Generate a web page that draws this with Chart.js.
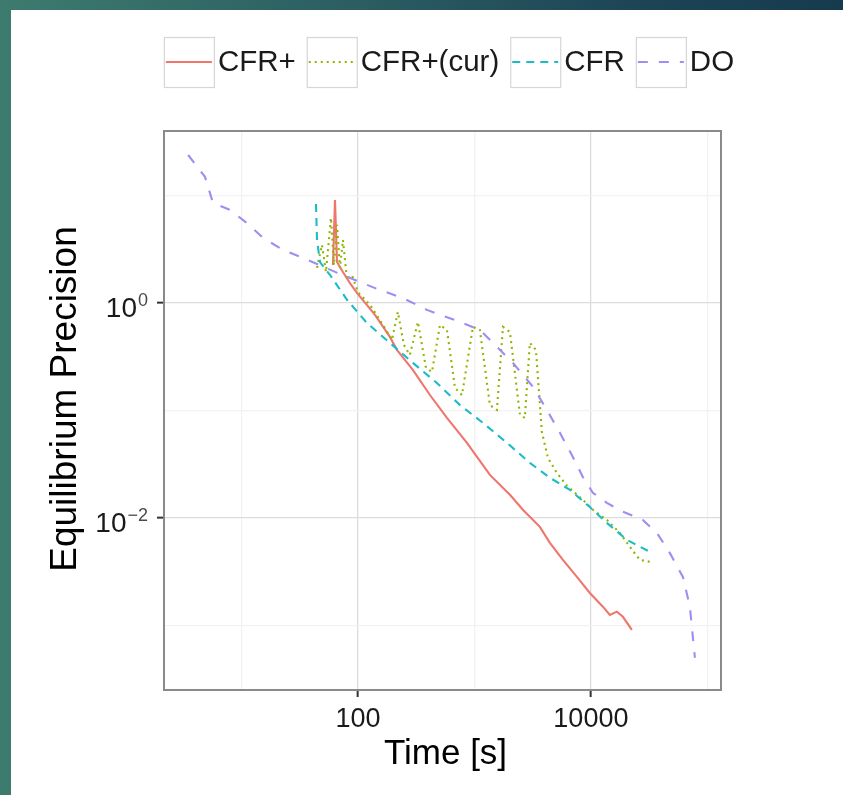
<!DOCTYPE html>
<html><head><meta charset="utf-8">
<script src="https://cdn.jsdelivr.net/npm/chart.js@4"></script>
<style>
html,body{margin:0;padding:0;width:843px;height:795px;overflow:hidden;}
body{position:relative;background:linear-gradient(90deg,#3d7b6e 0%,#2c5f63 40%,#1d4556 75%,#163a4e 100%);}
#panel{position:absolute;left:11px;top:10px;right:0;bottom:0;background:#fff;}
canvas{position:absolute;left:0;top:0;}
</style></head><body>
<div id="panel"></div>
<canvas id="c" width="843" height="795"></canvas>
<script>
// ---- data ----
const seriesNames = ['CFR+', 'CFR+(cur)', 'CFR', 'DO'];

const cfrPlusTime  = [61.0, 63.5, 66.1, 74.3, 85.3, 98.0, 140, 188, 216, 296, 415, 581, 863, 1358, 2018, 2606, 3648, 4446, 5754, 7586, 9795, 12680, 14550, 16710, 18840, 22490];
const cfrPlusValue = [2.25, 9.08, 2.40, 1.94, 1.53, 1.24, 0.773, 0.483, 0.366, 0.238, 0.139, 0.0851, 0.0499, 0.0251, 0.0164, 0.0119, 0.00824, 0.00585, 0.00406, 0.00282, 0.00200, 0.00149, 0.00125, 0.00134, 0.00120, 0.000908];

const cfrCurTime  = [44.5, 49.1, 53.1, 58.6, 62.2, 66.1, 70.0, 74.3, 80.5, 88.7, 100, 127, 164, 196, 220, 248, 279, 327, 384, 432, 506, 581, 681, 782, 971, 1114, 1358, 1560, 1758, 2018, 2460, 2710, 2992, 3373, 3793, 4276, 5105, 6223, 8531, 10400, 13710, 17740, 21630, 26360, 32060];
const cfrCurValue = [2.12, 3.47, 1.94, 6.18, 2.25, 5.32, 2.12, 3.85, 1.64, 1.82, 1.26, 0.957, 0.624, 0.453, 0.824, 0.406, 0.328, 0.665, 0.248, 0.228, 0.624, 0.561, 0.162, 0.139, 0.598, 0.561, 0.112, 0.101, 0.598, 0.537, 0.0908, 0.0851, 0.425, 0.366, 0.0631, 0.0361, 0.0262, 0.0199, 0.0147, 0.0119, 0.00957, 0.00724, 0.00537, 0.00406, 0.00390];

const cfrTime  = [43.6, 44.5, 47.2, 57.5, 80.5, 119, 188, 296, 476, 752, 1183, 1901, 2992, 4446, 6607, 9795, 13710, 20370, 32060];
const cfrValue = [8.34, 3.85, 2.40, 1.82, 1.07, 0.652, 0.425, 0.277, 0.180, 0.112, 0.0766, 0.0499, 0.0325, 0.0236, 0.0182, 0.0126, 0.00897, 0.00624, 0.00483];

const doTime  = [3.48, 4.86, 5.69, 7.96, 11.1, 15.3, 22.7, 33.7, 70.0, 146, 243, 391, 752, 1114, 1560, 2138, 3177, 4188, 5420, 7000, 8531, 10400, 13700, 18800, 27900, 36900, 47600, 61700, 70800, 78200];
const doValue = [23.8, 14.9, 8.51, 7.33, 5.55, 4.03, 3.11, 2.62, 1.86, 1.35, 1.11, 0.861, 0.665, 0.561, 0.390, 0.277, 0.166, 0.101, 0.0618, 0.0369, 0.0240, 0.0171, 0.0138, 0.0114, 0.00957, 0.00724, 0.00472, 0.00282, 0.00149, 0.000499];

// axes
const xRange = [2.16, 131000];
const yRange = [0.00025, 39.8];
const xGridValues = [10, 100, 1000, 10000, 100000];
const xTickValues = [100, 10000];
const xTickLabels = ['100', '10000'];
const yGridValues = [0.001, 0.01, 0.1, 1, 10];
const yTickValues = [1, 0.01];
const yTickBase = ['10', '10'];
const yTickExp = ['0', '\u22122'];
const xTitle = 'Time [s]';
const yTitle = 'Equilibrium Precision';

// ---- styles ----
const FONT = '"Liberation Sans", Arial, Helvetica, sans-serif';
const colors = ['#F0766D', '#8DB600', '#1CBCC6', '#A08CF2'];
const dashes = [[], [2, 4], [8, 6], [10, 11]];

function pts(t, v) { return t.map((x, i) => ({x: x, y: v[i]})); }
const seriesData = [pts(cfrPlusTime, cfrPlusValue), pts(cfrCurTime, cfrCurValue), pts(cfrTime, cfrValue), pts(doTime, doValue)];

const datasets = seriesNames.map((n, i) => ({
  label: n, data: seriesData[i], borderColor: colors[i], backgroundColor: colors[i],
  borderDash: dashes[i], borderWidth: 2.1, pointRadius: 0, tension: 0, fill: false, order: 4 - i
}));

const isIn = (arr, v) => arr.some(a => Math.abs(Math.log10(a) - Math.log10(v)) < 1e-6);

const textPlugin = {
  id: 'texts',
  afterDraw(chart) {
    const {ctx, chartArea: a} = chart;
    const xs = chart.scales.x, ys = chart.scales.y;
    ctx.save();
    // panel border
    ctx.strokeStyle = '#8a8a8a'; ctx.lineWidth = 2; ctx.setLineDash([]);
    ctx.strokeRect(a.left, a.top, a.right - a.left, a.bottom - a.top);
    // x tick labels
    ctx.fillStyle = '#1a1a1a';
    ctx.font = '27px ' + FONT; ctx.textAlign = 'center'; ctx.textBaseline = 'alphabetic';
    xTickValues.forEach((v, i) => ctx.fillText(xTickLabels[i], xs.getPixelForValue(v), a.bottom + 37));
    // y tick labels with superscripts
    yTickValues.forEach((v, i) => {
      const py = ys.getPixelForValue(v);
      const right = a.left - 16;
      ctx.font = '18px ' + FONT; ctx.textAlign = 'right';
      const we = ctx.measureText(yTickExp[i]).width;
      ctx.fillStyle = '#4a4a4a';
      ctx.fillText(yTickExp[i], right, py + 3);
      ctx.font = '28px ' + FONT; ctx.fillStyle = '#1a1a1a';
      ctx.fillText(yTickBase[i], right - we - 1, py + 14);
    });
    // axis titles
    ctx.font = '35px ' + FONT; ctx.textAlign = 'center'; ctx.fillStyle = '#000';
    ctx.fillText(xTitle, (a.left + a.right) / 2 + 3, 764);
    ctx.save();
    ctx.font = '37px ' + FONT;
    ctx.translate(66, 399); ctx.rotate(-Math.PI / 2);
    ctx.textBaseline = 'middle';
    ctx.fillText(yTitle, 0, 0);
    ctx.restore();
    // legend
    ctx.font = '29.5px ' + FONT; ctx.textBaseline = 'middle'; ctx.textAlign = 'left';
    const keyW = 50, keyH = 50, gKT = 4, gTK = 11, ly = 62;
    const tw = seriesNames.map(n => ctx.measureText(n).width);
    let total = 0; tw.forEach((w, i) => { total += keyW + gKT + w + (i < tw.length - 1 ? gTK : 0); });
    let x = 449 - total / 2;
    seriesNames.forEach((n, i) => {
      ctx.strokeStyle = '#d6d6d6'; ctx.lineWidth = 1.2; ctx.setLineDash([]);
      ctx.strokeRect(x + 0.5, ly - keyH / 2 + 0.5, keyW, keyH);
      ctx.strokeStyle = colors[i]; ctx.lineWidth = 2; ctx.setLineDash(dashes[i]);
      ctx.beginPath(); ctx.moveTo(x + 2, ly); ctx.lineTo(x + keyW - 2, ly); ctx.stroke();
      ctx.setLineDash([]);
      ctx.fillStyle = '#1a1a1a';
      ctx.fillText(n, x + keyW + gKT, ly + 1);
      x += keyW + gKT + tw[i] + gTK;
    });
    ctx.restore();
  }
};

new Chart(document.getElementById('c'), {
  type: 'line',
  data: {datasets: datasets},
  options: {
    responsive: false, animation: false, devicePixelRatio: 1,
    layout: {padding: {top: 131, right: 122, left: 0, bottom: 0}},
    plugins: {legend: {display: false}, tooltip: {enabled: false}, title: {display: false}},
    scales: {
      x: {
        type: 'logarithmic', min: xRange[0], max: xRange[1],
        afterBuildTicks: s => { s.ticks = xGridValues.map(v => ({value: v})); },
        afterFit: s => { s.height = 105; },
        ticks: {display: false},
        border: {display: false},
        grid: {
          color: c => isIn(xTickValues, c.tick.value) ? '#dcdcdc' : '#f2f2f2',
          lineWidth: 1.3,
          drawTicks: true, tickLength: 7, tickWidth: 2,
          tickColor: c => isIn(xTickValues, c.tick.value) ? '#333' : 'rgba(0,0,0,0)'
        }
      },
      y: {
        type: 'logarithmic', min: yRange[0], max: yRange[1],
        afterBuildTicks: s => { s.ticks = yGridValues.map(v => ({value: v})); },
        afterFit: s => { s.width = 164; },
        ticks: {display: false},
        border: {display: false},
        grid: {
          color: c => isIn(yTickValues, c.tick.value) ? '#dcdcdc' : '#f2f2f2',
          lineWidth: 1.3,
          drawTicks: true, tickLength: 7, tickWidth: 2,
          tickColor: c => isIn(yTickValues, c.tick.value) ? '#333' : 'rgba(0,0,0,0)'
        }
      }
    }
  },
  plugins: [textPlugin]
});
</script>
</body></html>
